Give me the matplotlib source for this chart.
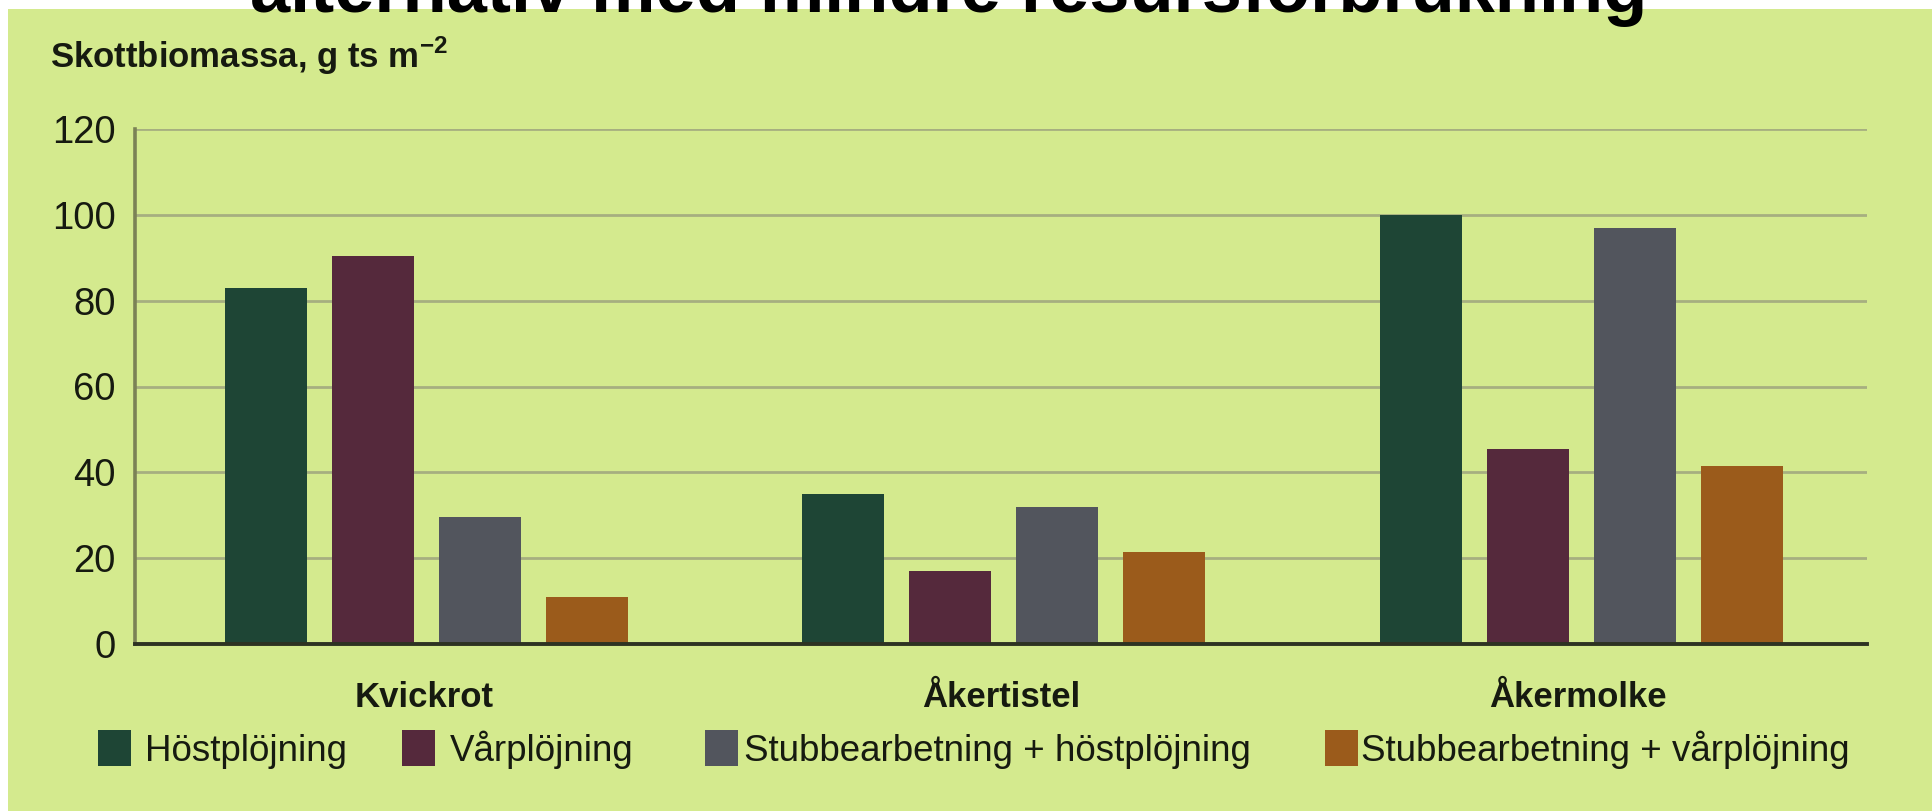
import matplotlib
matplotlib.use('Agg')
import matplotlib.pyplot as plt
from matplotlib.patches import Rectangle
import matplotlib.transforms as mtransforms
import numpy as np

plt.rcParams['font.family'] = ['Liberation Sans', 'DejaVu Sans']
plt.rcParams['mathtext.fontset'] = 'custom'
plt.rcParams['mathtext.rm'] = 'Liberation Sans'
plt.rcParams['mathtext.bf'] = 'Liberation Sans:bold'

# data
arter = ['Kvickrot', 'Åkertistel', 'Åkermolke']
behandlingar = ['Höstplöjning', 'Vårplöjning',
                'Stubbearbetning + höstplöjning', 'Stubbearbetning + vårplöjning']
hostplojning = [83, 35, 100]
varplojning = [90.5, 17, 45.5]
stubb_host = [29.5, 32, 97]
stubb_var = [11, 21.5, 41.5]
yticks = [0, 20, 40, 60, 80, 100, 120]

serier = [hostplojning, varplojning, stubb_host, stubb_var]
farger = ['#1e4535', '#55293c', '#52555d', '#9b5b1b']
bg = '#d4ea8e'
txt = '#161a10'

W, H = 1932, 811
fig = plt.figure(figsize=(W / 100, H / 100), dpi=100)
fig.patch.set_facecolor('white')

# green panel, behind everything
fig.patches.append(Rectangle((8 / W, 0), 1 - 8 / W, 1 - 9 / H,
                             transform=fig.transFigure, facecolor=bg,
                             edgecolor='none', zorder=-5))

# cut-off heading at the top
fig.text(949 / W, 1 - 12 / H, 'alternativ med mindre resursförbrukning',
         ha='center', va='baseline', fontsize=52, fontweight='bold',
         color='black', zorder=5)

ax = fig.add_axes([135 / W, 1 - 644 / H, (1867 - 135) / W, (644 - 129) / H])
ax.set_facecolor('none')

x = np.arange(len(arter))
step = 0.1854
bredd = 0.142
for i, (vals, c) in enumerate(zip(serier, farger)):
    ax.bar(x + (i - 1.5) * step + 0.005, vals, width=bredd, color=c, zorder=3)

ax.set_xlim(-0.5, 2.5)
ax.set_ylim(0, 120)
ax.set_yticks(yticks)
ax.set_yticklabels([str(v) for v in yticks], fontsize=27.5, color=txt)
ax.tick_params(axis='y', length=0, pad=14)
ax.set_xticks([])
for v in yticks[1:]:
    ax.axhline(v, color='#a6af80', lw=2.0, zorder=1)

for s in ['top', 'right']:
    ax.spines[s].set_visible(False)
ax.spines['left'].set_color('#7b8256')
ax.spines['left'].set_linewidth(2.6)
ax.spines['bottom'].set_color('#2d3322')
ax.spines['bottom'].set_linewidth(2.8)
ax.spines['bottom'].set_zorder(4)

# category labels under the groups
trans = mtransforms.blended_transform_factory(ax.transData, fig.transFigure)
for xi, namn in zip(x, arter):
    ax.text(xi, 1 - 707 / H, namn, transform=trans, ha='center', va='baseline',
            fontsize=25, fontweight='bold', color=txt)

# y-axis title
fig.text(50 / W, 1 - 68 / H, r'Skottbiomassa, g ts m$^{\mathbf{-2}}$',
         ha='left', va='baseline', fontsize=25, fontweight='bold', color=txt)

# legend, placed by hand
leg_x = [98, 402, 705, 1325]
txt_x = [145, 450, 744, 1361]
for lx, tx, namn, c in zip(leg_x, txt_x, behandlingar, farger):
    fig.patches.append(Rectangle((lx / W, 1 - 766 / H), 33 / W, 36 / H,
                                 transform=fig.transFigure, facecolor=c,
                                 edgecolor='none', zorder=2))
    fig.text(tx / W, 1 - 761 / H, namn, ha='left', va='baseline',
             fontsize=26.5, color=txt)

fig.savefig('out.png', dpi=100, facecolor=fig.get_facecolor())
